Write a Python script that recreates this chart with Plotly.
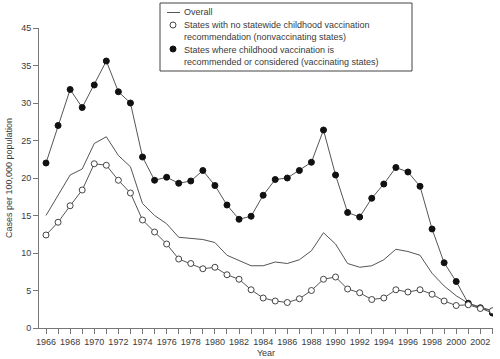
import plotly.graph_objects as go

years = list(range(1966, 2004))

overall = [15.0, 17.7, 20.4, 21.2, 24.6, 25.5, 23.0, 21.5, 16.6, 15.0,
           13.9, 12.1, 12.0, 11.8, 11.4, 9.7, 9.0, 8.3, 8.3, 8.8,
           8.6, 9.1, 10.3, 12.7, 11.2, 8.6, 8.1, 8.3, 9.1, 10.5,
           10.2, 9.7, 7.3, 5.6, 4.3, 3.3, 2.8, 2.3]

nonvacc = [12.4, 14.1, 16.3, 18.4, 21.9, 21.7, 19.7, 18.0, 14.4, 12.8,
           11.2, 9.2, 8.6, 7.9, 8.1, 7.1, 6.5, 5.1, 4.0, 3.6,
           3.4, 3.9, 5.0, 6.5, 6.8, 5.2, 4.7, 3.8, 4.0, 5.1,
           4.8, 5.1, 4.5, 3.6, 3.0, 3.1, 2.6, 2.3]

vacc = [22.0, 27.0, 31.8, 29.4, 32.4, 35.6, 31.5, 30.0, 22.8, 19.7,
        20.1, 19.3, 19.6, 21.0, 19.0, 16.4, 14.5, 14.9, 17.7, 19.8,
        20.0, 21.0, 22.1, 26.4, 20.4, 15.4, 14.8, 17.3, 19.2, 21.4,
        20.8, 18.9, 13.2, 8.7, 6.2, 3.3, 2.7, 2.0]

y_tickvals = [0, 5, 10, 15, 20, 25, 30, 35, 40]
y_ticktext = ["0", "5", "10", "15", "20", "25", "30", "35", "45"]
x_tickvals = years
x_ticktext = [str(y) if y % 2 == 0 and y <= 2002 else "" for y in years]

legend_lines = [
    "Overall",
    "States with no statewide childhood vaccination",
    "recommendation (nonvaccinating states)",
    "States where childhood vaccination is",
    "recommended or considered (vaccinating states)",
]

FONT = "Liberation Sans, Arial, sans-serif"
TXT = "#3a3a3a"
LINE = "#555555"
AX = "#777777"

fig = go.Figure()
fig.add_trace(go.Scatter(
    x=years, y=overall, mode="lines", name="Overall",
    line=dict(color=LINE, width=1)))
fig.add_trace(go.Scatter(
    x=years, y=vacc, mode="lines+markers", name="vaccinating states",
    line=dict(color=LINE, width=1),
    marker=dict(symbol="circle", size=6, color="#111111",
                line=dict(color="#111111", width=1))))
fig.add_trace(go.Scatter(
    x=years, y=nonvacc, mode="lines+markers", name="nonvaccinating states",
    line=dict(color=LINE, width=1),
    marker=dict(symbol="circle", size=6, color="white",
                line=dict(color="#444444", width=1))))

# plot area: x 39..493, y 28..328 (pixels)
L, R, T, B = 39, 493, 28, 328
def px(x):
    return (x - L) / (R - L)
def py(y):
    return (B - y) / (B - T)

shapes = [
    dict(type="rect", xref="paper", yref="paper",
         x0=px(160), x1=px(412), y0=py(71), y1=py(3),
         line=dict(color="#444444", width=1), fillcolor="white", layer="above"),
    dict(type="line", xref="paper", yref="paper",
         x0=px(167), x1=px(180), y0=py(12.5), y1=py(12.5),
         line=dict(color=LINE, width=1), layer="above"),
    dict(type="circle", xref="paper", yref="paper",
         x0=px(170), x1=px(176), y0=py(28), y1=py(22),
         line=dict(color="#444444", width=1), fillcolor="white", layer="above"),
    dict(type="circle", xref="paper", yref="paper",
         x0=px(170), x1=px(176), y0=py(52), y1=py(46),
         line=dict(color="#111111", width=1), fillcolor="#111111", layer="above"),
]
ys = [12.5, 25, 37.5, 49.5, 61.5]
annotations = [
    dict(text=t, xref="paper", yref="paper", x=px(182), y=py(yy),
         xanchor="left", yanchor="middle", showarrow=False,
         font=dict(family=FONT, size=9, color=TXT))
    for t, yy in zip(legend_lines, ys)
]

fig.update_layout(
    width=500, height=359,
    margin=dict(l=L, r=500 - R, t=T, b=359 - B, autoexpand=False),
    paper_bgcolor="white", plot_bgcolor="white",
    font=dict(family=FONT, size=9, color=TXT),
    showlegend=False,
    shapes=shapes, annotations=annotations,
    xaxis=dict(range=[1965.42, 2003.05], tickmode="array",
               tickvals=x_tickvals, ticktext=x_ticktext,
               ticks="outside", ticklen=5, tickcolor=AX,
               showline=True, linecolor=AX, linewidth=1,
               showgrid=False, zeroline=False, automargin=False,
               tickfont=dict(family=FONT, size=9, color=TXT),
               title=dict(text="Year", standoff=3,
                          font=dict(family=FONT, size=9, color=TXT))),
    yaxis=dict(range=[0, 40], tickmode="array",
               tickvals=y_tickvals, ticktext=y_ticktext,
               ticks="outside", ticklen=5, tickcolor=AX,
               showline=True, linecolor=AX, linewidth=1,
               showgrid=False, zeroline=False, automargin=False,
               tickfont=dict(family=FONT, size=9, color=TXT),
               title=dict(text="Cases per 100,000 population", standoff=7,
                          font=dict(family=FONT, size=9, color=TXT))),
)

fig.write_html("out.html",
               config={"displayModeBar": False},
               post_script="document.body.style.margin='0';document.body.style.padding='0';")
